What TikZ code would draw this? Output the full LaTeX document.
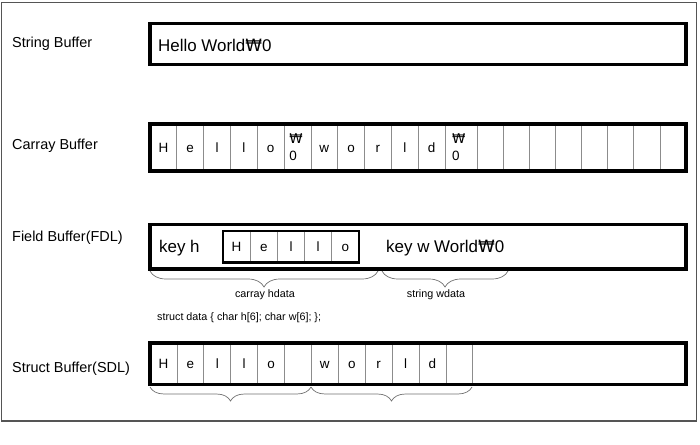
\documentclass[tikz,border=0pt]{standalone}
\usepackage{fontspec}
\setmainfont{Liberation Sans}
\newfontfamily\wonfont{DejaVu Sans}
\usetikzlibrary{decorations.pathreplacing}
\newcommand\wonsign{{\wonfont ₩}}
\definecolor{framegray}{HTML}{555555}
\definecolor{cellgray}{HTML}{8C8C8C}
\definecolor{bracegray}{HTML}{707070}
\newcommand\labtext{\fontsize{14.5}{17}\selectfont}
\newcommand\boxtext{\fontsize{17}{20}\selectfont}
\newcommand\celltext{\fontsize{13.5}{17}\selectfont}
\newcommand\smalltext{\fontsize{10.8}{13}\selectfont}
\begin{document}
\begin{tikzpicture}[x=1bp,y=-1bp,
  bigbox/.style={draw=black, line width=3.5bp, inner sep=0pt, outer sep=0pt},
  innerbox/.style={draw=black, line width=2.8bp, inner sep=0pt, outer sep=0pt},
  cell/.style={draw=cellgray, line width=0.8bp, inner sep=0pt, outer sep=0pt, font=\celltext, text height=9.6bp, text depth=0pt},
  stackcell/.style={inner sep=0pt, font=\celltext, align=left},
  lab/.style={anchor=base west, inner sep=0pt, font=\labtext},
  boxlab/.style={anchor=base west, inner sep=0pt, font=\boxtext},
  small/.style={anchor=base, inner sep=0pt, font=\smalltext},
  bracestyle/.style={draw=bracegray, line width=0.7bp, decorate, decoration={brace, mirror, amplitude=#1}},
  bracestyle/.default=15bp]
\useasboundingbox (0,0) rectangle (700,445);
% outer frame
\draw[framegray, line width=1.2bp] (1.5,2.5) rectangle (696.5,421);

% left labels
\node[lab] (lstring) at (12,47.7) {String Buffer};
\node[lab] (lcarray) at (12,149.3) {Carray Buffer};
\node[lab] (lfield) at (12,241.5) {Field Buffer(FDL)};
\node[lab] (lstruct) at (12,372.7) {Struct Buffer(SDL)};

% String buffer
\node[bigbox, minimum width=536bp, minimum height=41.2bp] (sbox) at (418,44.1) {};
\node[boxlab] (stext) at (158,51.9) {Hello World\wonsign0};

% Carray buffer
\foreach \t [count=\i] in {H,e,l,l,o,,w,o,r,l,d} {
  \node[cell, minimum width=26.82bp, minimum height=47bp, anchor=west] (c\i) at ({150+(\i-1)*26.82},147.5) {\t};
}
\node[cell, minimum width=32.5bp, minimum height=47bp, anchor=west] (c12) at (445,147.5) {};
\foreach \i in {13,...,20} {
  \node[cell, minimum width=26.06bp, minimum height=47bp, anchor=west] (c\i) at ({477.5+(\i-13)*26.06},147.5) {};
}
\node[stackcell] (z6) at ([xshift=-1.5bp]c6.center) {\wonsign\\0};
\node[stackcell] (z12) at ([xshift=-2.5bp]c12.center) {\wonsign\\0};
\node[bigbox, minimum width=536bp, minimum height=47bp] (cbox) at (418,147.5) {};

% Field buffer
\node[bigbox, minimum width=536bp, minimum height=44.5bp] (fbox) at (418,246.75) {};
\node[boxlab] (keyh) at (159,252.8) {key h};
\foreach \t [count=\i] in {H,e,l,l,o} {
  \node[cell, minimum width=27.2bp, minimum height=31.5bp, anchor=west] (h\i) at ({223+(\i-1)*27.2},246.75) {\t};
}
\node[innerbox, minimum width=136bp, minimum height=31.5bp] (hbox) at (291,246.75) {};
\node[boxlab] (keyw) at (386,252.8) {key w World\wonsign0};

\coordinate (fb1a) at (150,271);
\coordinate (fb1b) at (378,271);
\coordinate (fb2a) at (382,271);
\coordinate (fb2b) at (508,271);
\draw[bracestyle=16bp] (fb1a) -- (fb1b);
\draw[bracestyle=16bp] (fb2a) -- (fb2b);
\node[small] (hdata) at (265,298) {carray hdata};
\node[small] (wdata) at (436,298) {string wdata};

\node[small, anchor=base west] (sdecl) at (157,321) {struct data \{ char h[6]; char w[6]; \};};

% Struct buffer
\foreach \t [count=\i] in {H,e,l,l,o,,w,o,r,l,d,} {
  \node[cell, minimum width=26.9bp, minimum height=41.7bp, anchor=west] (s\i) at ({150+(\i-1)*26.9},363.85) {\t};
}
\node[bigbox, minimum width=536bp, minimum height=41.7bp] (stbox) at (418,363.85) {};
\coordinate (sb1a) at (150,387);
\coordinate (sb1b) at (311,387);
\coordinate (sb2b) at (472,387);
\draw[bracestyle=14bp] (sb1a) -- (sb1b);
\draw[bracestyle=14bp] (sb1b) -- (sb2b);
\end{tikzpicture}
\end{document}
